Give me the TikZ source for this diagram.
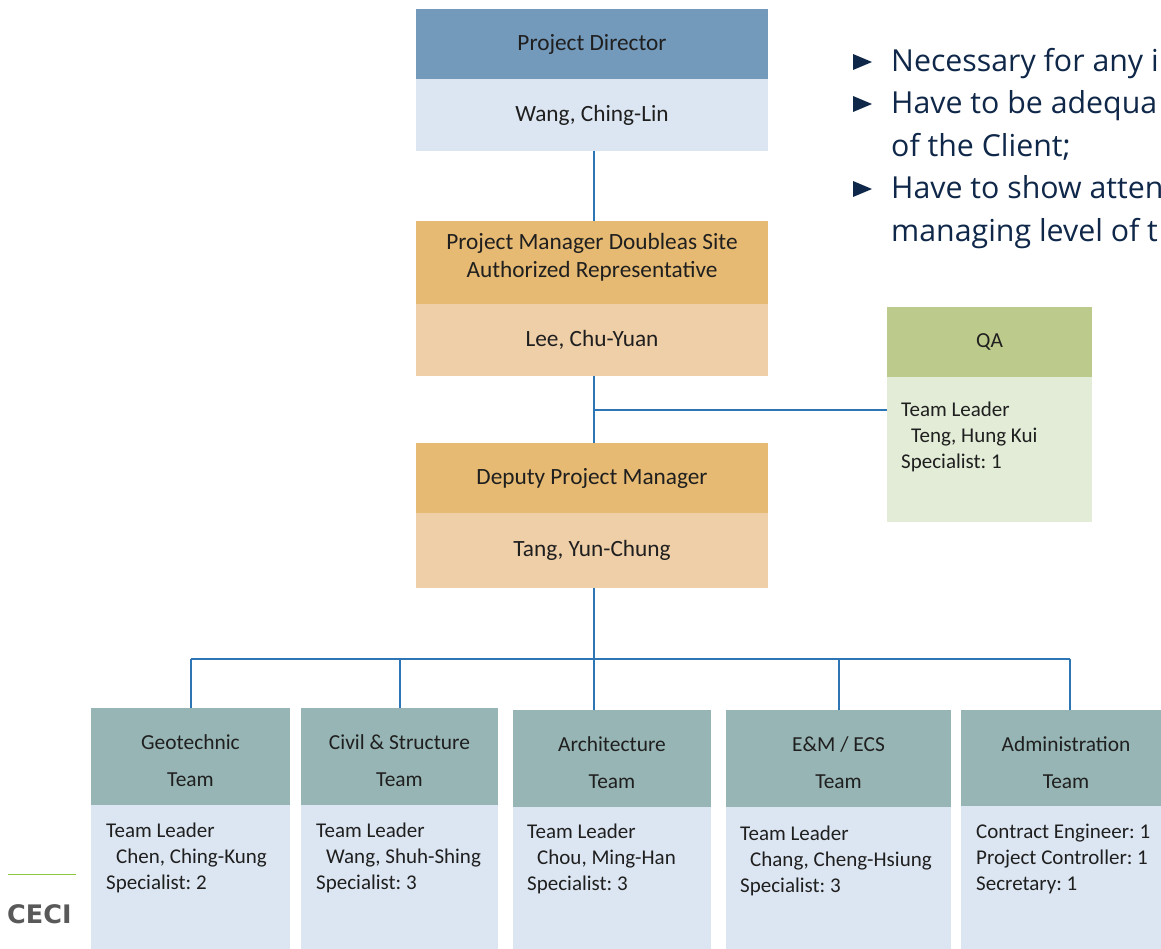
\documentclass[tikz,border=0pt]{standalone}
\usepackage{fontspec}
\setmainfont{Carlito}
\newfontfamily\bulletfont{Open Sans}
\newfontfamily\cecifont{DejaVu Sans}
\frenchspacing
\definecolor{pdhead}{HTML}{7399BB}
\definecolor{lightblue}{HTML}{DCE6F2}
\definecolor{orhead}{HTML}{E6BA72}
\definecolor{orbody}{HTML}{EFCFA8}
\definecolor{qahead}{HTML}{BCCB8B}
\definecolor{qabody}{HTML}{E2ECD6}
\definecolor{teamhead}{HTML}{97B5B4}
\definecolor{linkblue}{HTML}{2E75B6}
\definecolor{navy}{HTML}{0F2748}
\definecolor{cecigreen}{HTML}{8DC63F}
\definecolor{cecigrey}{HTML}{595959}
\newcommand\toprule{\rule{0pt}{15pt}}
\newcommand\teamtop{\rule{0pt}{24pt}}
\tikzset{
  x=1pt, y=-1pt,
  block/.style={rectangle, inner sep=0pt, draw=none, text=black!88},
  hdrtext/.style={font=\fontsize{23.3}{28}\selectfont, align=center},
  teamtext/.style={font=\fontsize{21.4}{37}\selectfont, align=center},
  bodytext/.style={font=\fontsize{21}{26}\selectfont, align=left, anchor=north west, inner sep=0pt, text=black!88},
  link/.style={draw=linkblue, line width=1.3pt},
  bullet/.style={font=\bulletfont\fontsize{30.3}{42.5}\selectfont, text=navy, anchor=base west, inner sep=0pt},
}
\begin{document}
\begin{tikzpicture}
\useasboundingbox (0,0) rectangle (1161,949);
\clip (0,0) rectangle (1161,949);
\coordinate (qaj) at (594,410);
\coordinate (trunk) at (594,659);
% Project Director
\node[block, fill=pdhead, minimum width=352pt, minimum height=71pt, hdrtext] (pdh) at (592,44.5) {Project Director};
\node[block, fill=lightblue, minimum width=352pt, minimum height=72pt, hdrtext] (pdb) at (592,115) {Wang, Ching-Lin};
% Project Manager
\node[block, fill=orhead, minimum width=352pt, minimum height=85pt, hdrtext] (pmh) at (592,263.5) {Project Manager Doubleas Site\\Authorized Representative\rule[-16pt]{0pt}{0pt}};
\node[block, fill=orbody, minimum width=352pt, minimum height=72pt, hdrtext] (pmb) at (592,340) {Lee, Chu-Yuan};
% Deputy
\node[block, fill=orhead, minimum width=352pt, minimum height=70pt, hdrtext] (dph) at (592,478) {Deputy Project Manager};
\node[block, fill=orbody, minimum width=352pt, minimum height=75pt, hdrtext] (dpb) at (592,550.5) {Tang, Yun-Chung};
% QA
\node[block, fill=qahead, minimum width=205pt, minimum height=70pt, teamtext] (qah) at (989.5,342) {QA};
\node[block, fill=qabody, minimum width=205pt, minimum height=145pt] (qab) at (989.5,449.5) {};
\node[bodytext] (qat) at (901,401) {\toprule Team Leader\\\hspace{10pt}Teng, Hung Kui\\Specialist: 1};
% Teams
\node[block, fill=teamhead, minimum width=199pt, minimum height=97pt, teamtext] (t1h) at (190.5,756.5) {\teamtop Geotechnic\\Team};
\node[block, fill=lightblue, minimum width=199pt, minimum height=144pt] (t1b) at (190.5,877) {};
\node[bodytext] (t1t) at (106,822) {\toprule Team Leader\\\hspace{10pt}Chen, Ching-Kung\\Specialist: 2};
\node[block, fill=teamhead, minimum width=197pt, minimum height=97pt, teamtext] (t2h) at (399.5,756.5) {\teamtop Civil \& Structure\\Team};
\node[block, fill=lightblue, minimum width=197pt, minimum height=144pt] (t2b) at (399.5,877) {};
\node[bodytext] (t2t) at (316,822) {\toprule Team Leader\\\hspace{10pt}Wang, Shuh-Shing\\Specialist: 3};
\node[block, fill=teamhead, minimum width=198pt, minimum height=97pt, teamtext] (t3h) at (612,758.5) {\teamtop Architecture\\Team};
\node[block, fill=lightblue, minimum width=198pt, minimum height=142pt] (t3b) at (612,878) {};
\node[bodytext] (t3t) at (527,823) {\toprule Team Leader\\\hspace{10pt}Chou, Ming-Han\\Specialist: 3};
\node[block, fill=teamhead, minimum width=225pt, minimum height=97pt, teamtext] (t4h) at (838.5,758.5) {\teamtop E\&M / ECS\\Team};
\node[block, fill=lightblue, minimum width=225pt, minimum height=142pt] (t4b) at (838.5,878) {};
\node[bodytext] (t4t) at (740,825) {\toprule Team Leader\\\hspace{10pt}Chang, Cheng-Hsiung\\Specialist: 3};
\node[block, fill=teamhead, minimum width=210pt, minimum height=96pt, teamtext] (t5h) at (1066,758) {\teamtop Administration\\Team};
\node[block, fill=lightblue, minimum width=210pt, minimum height=143pt] (t5b) at (1066,877.5) {};
\node[bodytext] (t5t) at (976,823) {\toprule Contract Engineer: 1\\Project Controller: 1\\Secretary: 1};
% links
\draw[link] (pdb.south -| qaj) -- (pmh.north -| qaj);
\draw[link] (pmb.south -| qaj) -- (dph.north -| qaj);
\draw[link] (qaj) -- (qab.west |- qaj);
\draw[link] (dpb.south -| trunk) -- (t3h.north -| trunk);
\draw[link] (191,659) -- (1070,659);
\draw[link] (191,659) -- (t1h.north -| 191,659);
\draw[link] (400,659) -- (t2h.north -| 400,659);
\draw[link] (839,659) -- (t4h.north -| 839,659);
\draw[link] (1070,659) -- (t5h.north -| 1070,659);
% bullets
\foreach \yy in {62,104,189}{
  \fill[navy] (853,\yy-8) -- (872,\yy) -- (853,\yy+8) -- cycle;
}
\node[bullet] (l1) at (891,72) {Necessary for any i};
\node[bullet] (l2) at (891,114) {Have to be adequa};
\node[bullet] (l3) at (891,157) {of the Client;};
\node[bullet] (l4) at (891,199) {Have to show atten};
\node[bullet] (l5) at (891,242) {managing level of t};
% CECI
\draw[cecigreen, line width=1pt] (8,874) -- (76,874);
\node[anchor=base west, inner sep=0pt, text=cecigrey, font=\cecifont\bfseries\fontsize{25.5}{28}\selectfont] (ceci) at (7,923) {CECI};
\end{tikzpicture}
\end{document}
